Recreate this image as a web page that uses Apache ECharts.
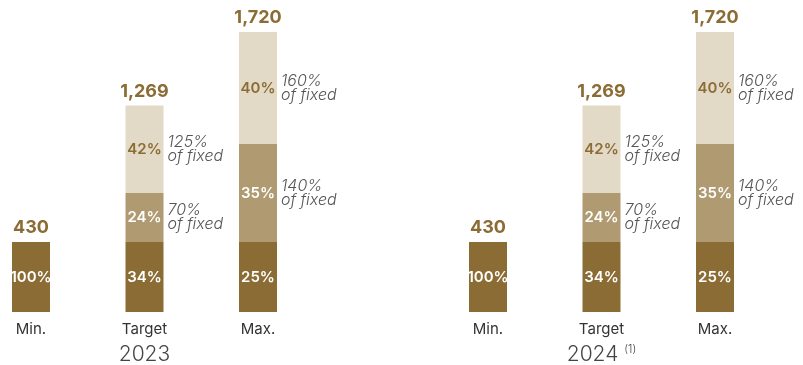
<!DOCTYPE html>
<html>
<head>
<meta charset="utf-8">
<script src="https://cdn.jsdelivr.net/npm/echarts@6/dist/echarts.min.js"></script>
<style>
  html, body { margin: 0; padding: 0; background: #ffffff; }
  #chart { width: 803px; height: 365px; }
</style>
</head>
<body>
<div id="chart"></div>
<script>
// Pay scenarios per year
const categories = ['Min.', 'Target', 'Max.'];
const years = ['2023', '2024'];

// 2023 components
const fixed2023 = [430, 430, 430];
const variableBase2023 = [null, 301, 602];
const variableTop2023 = [null, 538, 688];
const total2023 = [430, 1269, 1720];

// 2024 components
const fixed2024 = [430, 430, 430];
const variableBase2024 = [null, 301, 602];
const variableTop2024 = [null, 538, 688];
const total2024 = [430, 1269, 1720];

const DARK = '#8b6c35';
const MID = '#b09a71';
const LIGHT = '#e2d9c6';
const FONT = 'Inter';
const BAR_W = 38;

const chart = echarts.init(document.getElementById('chart'));

function buildSeries(gi, fixed, base, top, total) {
  const common = {
    type: 'bar',
    xAxisIndex: gi,
    yAxisIndex: gi,
    barWidth: BAR_W,
    barGap: '-100%',
    clip: false,
    silent: true,
    animation: false
  };
  const pctOfTotal = (p) => Math.round(p.value / total[p.dataIndex] * 100) + '%';
  const pctOfFixed = (p) => Math.round(p.value / fixed[p.dataIndex] * 100) + '%\nof fixed';
  const inside = (color) => ({
    show: true, position: 'inside', formatter: pctOfTotal,
    color: color, fontFamily: FONT, fontWeight: 600, fontSize: 15
  });
  const note = {
    show: true, position: 'right', distance: 4, formatter: pctOfFixed,
    color: '#555555', fontFamily: FONT, fontStyle: 'italic', fontWeight: 300,
    fontSize: 16, lineHeight: 14, align: 'left'
  };
  return [
    // visible stacked segments
    Object.assign({}, common, { name: 'fixed', stack: 'pay' + gi, data: fixed,
      itemStyle: { color: DARK }, label: inside('#ffffff') }),
    Object.assign({}, common, { name: 'variable', stack: 'pay' + gi, data: base,
      itemStyle: { color: MID }, label: inside('#ffffff') }),
    Object.assign({}, common, { name: 'variable above', stack: 'pay' + gi, data: top,
      itemStyle: { color: LIGHT }, label: inside(DARK) }),
    // transparent twins carrying the "of fixed" notes beside each segment
    Object.assign({}, common, { name: 'fixed note', stack: 'note' + gi, data: fixed,
      itemStyle: { color: 'rgba(0,0,0,0)' }, label: { show: false } }),
    Object.assign({}, common, { name: 'variable note', stack: 'note' + gi, data: base,
      itemStyle: { color: 'rgba(0,0,0,0)' }, label: note }),
    Object.assign({}, common, { name: 'variable above note', stack: 'note' + gi, data: top,
      itemStyle: { color: 'rgba(0,0,0,0)' }, label: note }),
    // total on top of each bar
    Object.assign({}, common, { name: 'total', data: total,
      itemStyle: { color: 'rgba(0,0,0,0)' }, z: 1,
      label: { show: true, position: 'top', distance: 5,
        formatter: (p) => p.value.toLocaleString('en-US'),
        color: DARK, fontFamily: FONT, fontWeight: 700, fontSize: 18 } })
  ];
}

function xAxisFor(gi, name) {
  return {
    type: 'category', gridIndex: gi, data: categories, boundaryGap: false,
    axisLine: { show: false }, axisTick: { show: false },
    axisLabel: { color: '#333333', fontFamily: FONT, fontSize: 15, margin: 10 },
    name: name, nameLocation: 'middle', nameGap: 32,
    nameTextStyle: {
      color: '#444444', fontFamily: FONT, fontSize: 21, fontWeight: 300,
      rich: { sup: { fontSize: 11, fontFamily: FONT, color: '#444444', verticalAlign: 'top', padding: [0, 0, 10, 0] } }
    }
  };
}

function yAxisFor(gi) {
  return { type: 'value', gridIndex: gi, min: 0, max: 1720, show: false, splitLine: { show: false } };
}

chart.setOption({
  backgroundColor: '#ffffff',
  grid: [
    { left: 31, width: 227, top: 32, height: 280, outerBoundsMode: 'none', containLabel: false },
    { left: 488, width: 227, top: 32, height: 280, outerBoundsMode: 'none', containLabel: false }
  ],
  xAxis: [xAxisFor(0, years[0]), xAxisFor(1, years[1] + ' {sup|(1)}')],
  yAxis: [yAxisFor(0), yAxisFor(1)],
  series: [].concat(
    buildSeries(0, fixed2023, variableBase2023, variableTop2023, total2023),
    buildSeries(1, fixed2024, variableBase2024, variableTop2024, total2024)
  )
});
</script>
</body>
</html>
